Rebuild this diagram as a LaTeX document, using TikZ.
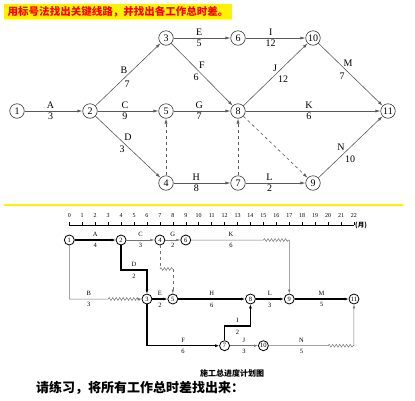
\documentclass[tikz,border=0pt]{standalone}
\usepackage{fontspec}
\setmainfont{Liberation Serif}
\newfontfamily\cjk{Noto Sans CJK SC}
\usetikzlibrary{arrows.meta,decorations.pathmorphing}

\begin{document}
\begin{tikzpicture}
        [
            x = 1pt, y = -1pt,
            ev/.style = {circle, draw = black!80, line width = 0.6pt, minimum size = 14.5pt, inner sep = 0pt, font = \fontsize{10}{12}\selectfont},
            act/.style = {draw = black!65, line width = 0.6pt, -{Latex[length = 5pt, width = 3pt]}},
            lab/.style = {inner sep = 0pt, font = \fontsize{10}{12}\selectfont},
            sev/.style = {circle, draw, line width = 0.8pt, minimum size = 10pt, inner sep = 0pt, font = \fontsize{6.5}{7}\selectfont},
            crit/.style = {draw = black, line width = 1.4pt, -{Latex[length = 4pt, width = 3pt]}},
            norm/.style = {draw = black!55, line width = 0.5pt, -{Latex[length = 4pt, width = 2.5pt]}},
            slab/.style = {inner sep = 0pt, font = \fontsize{6.5}{7}\selectfont},
            wv/.style = {decoration = {snake, segment length = 3.5pt, amplitude = 1.4pt}}
        ]

        \useasboundingbox (0,0) rectangle (415,400);

        \node [fill = yellow, minimum width = 228pt, minimum height = 15.5pt, inner sep = 0pt, text = red,
            font = \cjk\bfseries\fontsize{10.5}{12}\selectfont] (title) at (118,11.5) {用标号法找出关键线路，并找出各工作总时差。};

        \node [ev] (e1) at (17,111) {1};
        \node [ev] (e2) at (90,111) {2};
        \node [ev] (e3) at (166,38) {3};
        \node [ev] (e5) at (166,111) {5};
        \node [ev] (e4) at (166,183) {4};
        \node [ev] (e6) at (238,38) {6};
        \node [ev] (e8) at (238,111) {8};
        \node [ev] (e7) at (238,183) {7};
        \node [ev] (e10) at (313,38) {10};
        \node [ev] (e9) at (313,183) {9};
        \node [ev] (e11) at (388,111) {11};

        \draw [act] (e1) -- node [lab, pos = .45, above = 2pt] {A} node [lab, pos = .45, below = 2pt] {3} (e2);
        \draw [act] (e2) -- node [lab, midway, shift = {(-4,-4)}] {B} node [lab, midway, shift = {(-1,10)}] {7} (e3);
        \draw [act] (e2) -- node [lab, pos = .45, above = 2pt] {C} node [lab, pos = .45, below = 2pt] {9} (e5);
        \draw [act] (e2) -- node [lab, midway, shift = {(0,-10)}] {D} node [lab, midway, shift = {(-6,2)}] {3} (e4);
        \draw [act] (e3) -- node [lab, pos = .45, above = 2pt] {E} node [lab, pos = .45, below = 2pt] {5} (e6);
        \draw [act] (e3) -- node [lab, midway, shift = {(0,-9.5)}] {F} node [lab, midway, shift = {(-6,2.5)}] {6} (e8);
        \draw [act] (e5) -- node [lab, pos = .45, above = 2pt] {G} node [lab, pos = .45, below = 2pt] {7} (e8);
        \draw [act] (e4) -- node [lab, pos = .4, above = 2pt] {H} node [lab, pos = .4, below = 2pt] {8} (e7);
        \draw [act, dashed] (e4) -- (e5);
        \draw [act] (e6) -- node [lab, pos = .42, above = 2pt] {I} node [lab, pos = .42, below = 2pt] {12} (e10);
        \draw [act] (e8) -- node [lab, midway, shift = {(-0.5,-6.5)}] {J} node [lab, midway, shift = {(7.5,4.5)}] {12} (e10);
        \draw [act] (e8) -- node [lab, pos = .47, above = 2pt] {K} node [lab, pos = .47, below = 2pt] {6} (e11);
        \draw [act, dashed] (e7) -- (e8);
        \draw [act, dashed] (e8) -- (e9);
        \draw [act] (e7) -- node [lab, pos = .4, above = 2pt] {L} node [lab, pos = .4, below = 2pt] {2} (e9);
        \draw [act] (e10) -- node [lab, midway, shift = {(-2.5,-11.5)}] {M} node [lab, midway, shift = {(-8.5,1.5)}] {7} (e11);
        \draw [act] (e9) -- node [lab, midway, shift = {(-9.5,0)}] {N} node [lab, midway, shift = {(-0.5,12)}] {10} (e11);

        \draw [yellow, line width = 2pt] (4,205) -- (403,205);

        \begin{scope}[xshift = 69.3pt, x = 12.94pt]
            \draw [line width = 0.6pt] (0,225) -- (22,225);
            \foreach \t in {0,...,22}
            {
                \draw [line width = 0.5pt] (\t,222) -- (\t,225);
                \node [slab, font = \fontsize{6}{7}\selectfont] at (\t,216) {\t};
            }
            \node [anchor = west, inner sep = 1pt, font = \cjk\bfseries\fontsize{6.5}{7}\selectfont] (unit) at (22,225) {(月)};

            \node [sev] (s1) at (0,240) {1};
            \node [sev] (s2) at (4,240) {2};
            \node [sev] (s4) at (7,240) {4};
            \node [sev] (s6) at (9,240) {6};
            \node [sev] (s3) at (6,299) {3};
            \node [sev] (s5) at (8,299) {5};
            \node [sev] (s8) at (14,299) {8};
            \node [sev] (s9) at (17,299) {9};
            \node [sev] (s11) at (22,299) {11};
            \node [sev] (s7) at (12,345.7) {7};
            \node [sev] (s10) at (15,345.7) {10};

            \coordinate (k1) at (15,240);
            \coordinate (k2) at (17,240);
            \coordinate (d1) at (5,270);
            \coordinate (w1) at (7,269);
            \coordinate (w2) at (8,269);
            \coordinate (b1) at (0,299);
            \coordinate (b2) at (3,299);
            \coordinate (i1) at (13,326);
            \coordinate (n1) at (20,345.7);
            \coordinate (n2) at (22,345.7);

            \draw [crit] (s1) -- node [slab, above = 3pt] {A} node [slab, below = 3pt] {4} (s2);
            \draw [norm] (s2) -- node [slab, above = 3pt] {C} node [slab, below = 3pt] {3} (s4);
            \draw [norm] (s4) -- node [slab, above = 3pt] {G} node [slab, below = 3pt] {2} (s6);
            \draw [norm] (s6) -- node [slab, pos = .55, above = 3pt] {K} node [slab, pos = .55, below = 3pt] {6} (k1)
                decorate [wv] {-- (k2)} -- (s9);
            \draw [crit] (s2) |- (d1) node [slab, above = 3pt] {D} node [slab, below = 3pt] {2} -| (s3);
            \draw [norm, dashed, -] (s4) -- (w1);
            \draw [norm, -, decorate, wv] (w1) -- (w2);
            \draw [norm, dashed] (w2) -- (s5);
            \draw [norm] (s1) -- (b1) -- node [slab, above = 3pt] {B} node [slab, below = 3pt] {3} (b2)
                decorate [wv] {-- (s3)};
            \draw [crit] (s3) -- node [slab, above = 3pt] {E} node [slab, below = 3pt] {2} (s5);
            \draw [crit] (s5) -- node [slab, above = 3pt] {H} node [slab, below = 3pt] {6} (s8);
            \draw [crit] (s8) -- node [slab, above = 3pt] {L} node [slab, below = 3pt] {3} (s9);
            \draw [crit] (s9) -- node [slab, above = 3pt] {M} node [slab, below = 3pt] {5} (s11);
            \draw [crit] (s3) |- node [slab, pos = .75, above = 3pt] {F} node [slab, pos = .75, below = 3pt] {6} (s7);
            \draw [crit] (s7) |- (i1) node [slab, above = 3pt] {I} node [slab, below = 3pt] {2} -| (s8);
            \draw [norm] (s7) -- node [slab, above = 3pt] {J} node [slab, below = 3pt] {3} (s10);
            \draw [norm] (s10) -- node [slab, pos = .55, above = 3pt] {N} node [slab, pos = .55, below = 3pt] {5} (n1)
                decorate [wv] {-- (n2)} -- (s11);
        \end{scope}

        \node [font = \cjk\bfseries\fontsize{8}{9}\selectfont] (caption) at (232,373) {施工总进度计划图};
        \node [anchor = west, inner sep = 0pt, font = \cjk\bfseries\fontsize{13}{15}\selectfont] (task) at (36,388) {请练习，将所有工作总时差找出来：};
    \end{tikzpicture}
\end{document}
